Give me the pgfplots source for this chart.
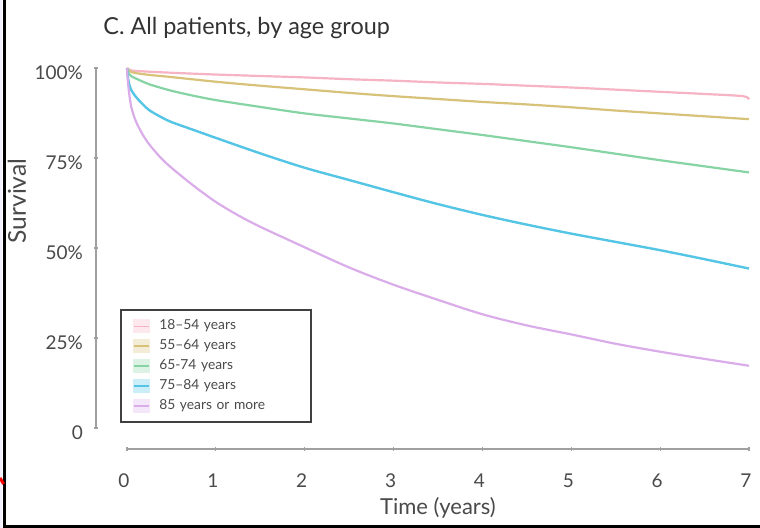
\documentclass[border=0pt]{standalone}
\usepackage{fontspec}
\setmainfont{Lato}
\usepackage{pgfplots}
\pgfplotsset{compat=1.18}
\definecolor{cpink}{HTML}{F5B3C4}
\definecolor{ctan}{HTML}{D8C27A}
\definecolor{cgreen}{HTML}{86D3A4}
\definecolor{cblue}{HTML}{55C5E6}
\definecolor{cpurple}{HTML}{DAADEA}
\definecolor{ctext}{HTML}{4A4A4A}
\definecolor{caxis}{HTML}{A0A0A0}
\begin{document}
\begin{tikzpicture}
\path[use as bounding box] (0,0) rectangle (380pt,264pt);
\fill[white] (0,0) rectangle (380pt,264pt);
\fill[blue!6] (0,0) rectangle (1.2pt,264pt);
\begin{axis}[
  at={(48pt,39.5pt)}, anchor=south west,
  scale only axis, width=326.5pt, height=191pt,
  xmin=-0.349, xmax=7, ymin=-5.83, ymax=100.3,
  clip=false,
  axis x line*=bottom, axis y line*=left,
  axis line style={draw=none},
  xtick={0,1,2,3,4,5,6,7},
  ytick={0,25,50,75,100},
  yticklabels={0,25\%,50\%,75\%,100\%},
  /pgf/number format/assume math mode=true,
  tick style={caxis, line width=0.6pt},
  major tick length=2pt,
  tick align=center,
  tick label style={font=\fontsize{9.5}{11}\selectfont, text=ctext},
  x tick label style={yshift=-8pt, xshift=-1.5pt},
  y tick label style={xshift=-2pt, yshift=-2.5pt},
  xlabel={Time (years)},
  ylabel={Survival},
  label style={font=\fontsize{11}{13}\selectfont, text=ctext},
  x label style={at={(axis description cs:0.5237,-0.1545)}, anchor=center},
  y label style={at={(axis description cs:-0.121,0.649)}, anchor=center, font=\fontsize{12.3}{14}\selectfont},
  title={C. All patients, by age group},
  title style={at={(axis description cs:0.0107,1.0707)}, anchor=west, yshift=0pt, inner sep=0pt, font=\fontsize{11.7}{14}\selectfont, text=black!80},
  legend style={at={(axis description cs:0.0368,0.3665)}, anchor=north west,
    draw=black!75, line width=0.9pt, inner xsep=6pt, inner ysep=4pt,
    font=\fontsize{6.9}{8}\selectfont, text=ctext, row sep=1.45pt, column sep=2.5pt,
    nodes={inner ysep=1pt, text width=68pt}},
  legend cell align=left,
]
\draw[caxis, line width=0.7pt] (axis cs:-0.349,0) -- (axis cs:-0.349,100.3);
\draw[caxis, line width=0.7pt] (axis cs:0,-5.83) -- (axis cs:7,-5.83);

\addplot[cpink, line width=1.1pt, smooth, legend image code/.code={\fill[cpink!30] (0pt,-3pt) rectangle (7.5pt,3pt); \draw[cpink, line width=0.8pt] (0pt,0pt) -- (7.5pt,0pt);}]
 coordinates {(0,100) (0.03,99.5) (0.1,99.2) (0.5,98.7) (1,98.2) (1.5,97.8) (2,97.4) (2.5,96.9) (3,96.5) (3.5,96.0) (4,95.6) (4.5,95.1) (5,94.6) (5.5,94.0) (6,93.4) (6.5,92.8) (6.93,92.2) (7,91.3)};
\addlegendentry{18–54 years}
\addplot[ctan, line width=1.1pt, smooth, legend image code/.code={\fill[ctan!30] (0pt,-3pt) rectangle (7.5pt,3pt); \draw[ctan, line width=0.8pt] (0pt,0pt) -- (7.5pt,0pt);}]
 coordinates {(0,100) (0.02,99.3) (0.05,98.9) (0.1,98.6) (0.25,98.1) (0.5,97.5) (1,96.2) (1.5,95.1) (2,94.1) (2.5,93.1) (3,92.2) (3.5,91.4) (4,90.6) (4.5,89.9) (5,89.1) (5.5,88.2) (6,87.4) (6.5,86.6) (7,85.8)};
\addlegendentry{55–64 years}
\addplot[cgreen, line width=1.1pt, smooth, legend image code/.code={\fill[cgreen!30] (0pt,-3pt) rectangle (7.5pt,3pt); \draw[cgreen, line width=0.8pt] (0pt,0pt) -- (7.5pt,0pt);}]
 coordinates {(0,100) (0.01,99.0) (0.025,98.3) (0.05,97.7) (0.1,97.1) (0.25,95.5) (0.5,93.7) (0.75,92.3) (1,91.1) (1.5,89.2) (2,87.4) (2.5,86.0) (3,84.6) (3.5,83.0) (4,81.4) (4.5,79.7) (5,78.0) (5.5,76.2) (6,74.4) (6.5,72.7) (7,71.0)};
\addlegendentry{65-74 years}
\addplot[cblue, line width=1.2pt, smooth, legend image code/.code={\fill[cblue!30] (0pt,-3pt) rectangle (7.5pt,3pt); \draw[cblue, line width=0.8pt] (0pt,0pt) -- (7.5pt,0pt);}]
 coordinates {(0,100) (0.01,97.5) (0.025,95.5) (0.05,93.8) (0.1,92.0) (0.175,90.0) (0.25,88.3) (0.375,86.5) (0.5,85.0) (0.75,82.8) (1,80.6) (1.5,76.3) (2,72.3) (2.5,68.9) (3,65.5) (3.5,62.2) (4,59.2) (4.5,56.5) (5,54.0) (5.5,51.7) (6,49.4) (6.5,46.9) (7,44.3)};
\addlegendentry{75–84 years}
\addplot[cpurple, line width=1.1pt, smooth, legend image code/.code={\fill[cpurple!30] (0pt,-3pt) rectangle (7.5pt,3pt); \draw[cpurple, line width=0.8pt] (0pt,0pt) -- (7.5pt,0pt);}]
 coordinates {(0,100) (0.005,97.8) (0.01,96.3) (0.025,92.8) (0.05,89.0) (0.1,85.2) (0.175,81.6) (0.25,78.8) (0.375,75.2) (0.5,72.3) (0.75,67.3) (1,62.8) (1.25,59.1) (1.5,55.9) (2,50.2) (2.5,44.6) (3,39.8) (3.5,35.6) (4,31.6) (4.5,28.5) (5,26.0) (5.5,23.4) (6,21.2) (6.5,19.2) (7,17.3)};
\addlegendentry{85 years or more}
\end{axis}
\draw[black, line width=1.4pt] (2.4pt,264pt) -- (2.4pt,0.75pt) -- (380pt,0.75pt);
\draw[red, line width=1.5pt] (0pt,25pt) -- (1.8pt,22pt);
\end{tikzpicture}
\end{document}
